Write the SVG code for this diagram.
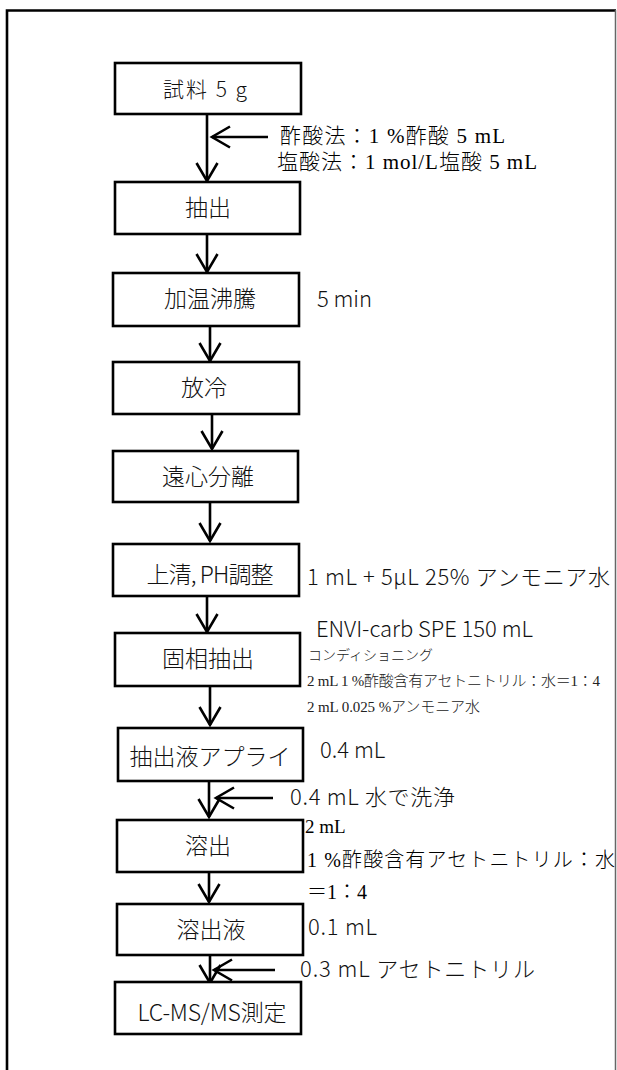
<svg xmlns="http://www.w3.org/2000/svg" width="617" height="1070" viewBox="0 0 617 1070">
<style>
.box{fill:#fff;stroke:#000;stroke-width:2.6}
.bt{font-family:"Noto Sans CJK JP","Noto Sans",sans-serif;font-size:23px;font-weight:300;fill:#111;text-anchor:middle}
.st{font-family:"Noto Sans CJK JP","Noto Sans",sans-serif;font-size:22px;font-weight:300;fill:#111}
.mt{font-family:"Liberation Serif","Noto Sans CJK JP",serif;font-size:21px;font-weight:300;fill:#000}
.sm{font-family:"Liberation Serif","Noto Sans CJK JP",serif;font-size:15px;font-weight:300;fill:#222}
.cn{stroke:#000;stroke-width:2.6;fill:none;marker-end:url(#ah)}
</style>
<defs>
<marker id="ah" markerUnits="userSpaceOnUse" viewBox="0 0 22 24" refX="19" refY="12" markerWidth="22" markerHeight="24" orient="auto">
<path d="M1,1.5 L19,12 L1,22.5" fill="none" stroke="#000" stroke-width="2.6"/>
</marker>
</defs>
<rect width="617" height="1070" fill="#fff"/>
<g id="frame">
<path d="M7,1070 V10.5 H616" fill="none" stroke="#000" stroke-width="2.6"/>
<line x1="615.5" y1="10" x2="615.5" y2="1070" stroke="#666" stroke-width="1.5"/>
</g>
<g id="connectors">
<line class="cn" x1="207" y1="114" x2="207" y2="181"/>
<line class="cn" x1="268" y1="137" x2="212" y2="137"/>
<line class="cn" x1="207" y1="234" x2="207" y2="272"/>
<line class="cn" x1="210" y1="326" x2="210" y2="361"/>
<line class="cn" x1="212" y1="414" x2="212" y2="449"/>
<line class="cn" x1="210" y1="502" x2="210" y2="541"/>
<line class="cn" x1="207" y1="596" x2="207" y2="632"/>
<line class="cn" x1="210" y1="686" x2="210" y2="725"/>
<line class="cn" x1="209" y1="781" x2="209" y2="817"/>
<line class="cn" x1="273" y1="798" x2="216" y2="798"/>
<line class="cn" x1="209" y1="872" x2="209" y2="902"/>
<line class="cn" x1="210" y1="955" x2="210" y2="983"/>
<line class="cn" x1="275" y1="970" x2="214" y2="970"/>
</g>
<g id="n1"><rect class="box" x="115" y="63" width="186" height="51"/><text class="bt" x="205" y="97" style="font-size:21px" textLength="84" lengthAdjust="spacing">試料 5 g</text></g>
<g id="n2"><rect class="box" x="115" y="182" width="185" height="52"/><text class="bt" x="208" y="216">抽出</text></g>
<g id="n3"><rect class="box" x="113" y="273" width="186" height="53"/><text class="bt" x="210" y="307">加温沸騰</text></g>
<g id="n4"><rect class="box" x="113" y="362" width="186" height="52"/><text class="bt" x="204" y="396">放冷</text></g>
<g id="n5"><rect class="box" x="113" y="451" width="185" height="51"/><text class="bt" x="208" y="485">遠心分離</text></g>
<g id="n6"><rect class="box" x="113" y="544" width="186" height="52"/><text class="bt" x="210" y="583" textLength="127" lengthAdjust="spacing">上清, PH調整</text></g>
<g id="n7"><rect class="box" x="115" y="633" width="185" height="53"/><text class="bt" x="208" y="667">固相抽出</text></g>
<g id="n8"><rect class="box" x="118" y="728" width="185" height="53"/><text class="bt" x="210" y="765">抽出液アプライ</text></g>
<g id="n9"><rect class="box" x="117" y="820" width="186" height="52"/><text class="bt" x="208" y="854">溶出</text></g>
<g id="n10"><rect class="box" x="117" y="904" width="186" height="51"/><text class="bt" x="211" y="938">溶出液</text></g>
<g id="n11"><rect class="box" x="115" y="982" width="186" height="52"/><text class="bt" x="212" y="1021" textLength="149" lengthAdjust="spacing">LC-MS/MS測定</text></g>
<g id="labels">
<text class="mt" x="280" y="143" textLength="225" lengthAdjust="spacing">酢酸法：1 %酢酸 5 mL</text>
<text class="mt" x="277" y="169" textLength="260" lengthAdjust="spacing">塩酸法：1 mol/L塩酸 5 mL</text>
<text class="st" x="317" y="307" textLength="55" lengthAdjust="spacing">5 min</text>
<text class="st" x="307" y="585" textLength="303" lengthAdjust="spacing">1 mL + 5μL 25% アンモニア水</text>
<text class="st" x="316" y="637" textLength="217" lengthAdjust="spacing">ENVI-carb SPE 150 mL</text>
<text class="sm" x="308" y="660" textLength="125" lengthAdjust="spacing" style="font-size:14px">コンディショニング</text>
<text class="sm" x="307" y="686" textLength="293" lengthAdjust="spacing">2 mL 1 %酢酸含有アセトニトリル：水＝1：4</text>
<text class="sm" x="307" y="712" textLength="173" lengthAdjust="spacing">2 mL 0.025 %アンモニア水</text>
<text class="st" x="320" y="758">0.4 mL</text>
<text class="st" x="290" y="805" textLength="165" lengthAdjust="spacing">0.4 mL 水で洗浄</text>
<text class="mt" x="305" y="833" style="font-size:19px">2 mL</text>
<text class="mt" x="307" y="867" style="font-size:20px" textLength="308" lengthAdjust="spacing">1 %酢酸含有アセトニトリル：水</text>
<text class="mt" x="307" y="899" style="font-size:20px">＝1：4</text>
<text class="st" x="308" y="935" textLength="69" lengthAdjust="spacing">0.1 mL</text>
<text class="st" x="300" y="977" textLength="235" lengthAdjust="spacing">0.3 mL アセトニトリル</text>
</g>
</svg>
